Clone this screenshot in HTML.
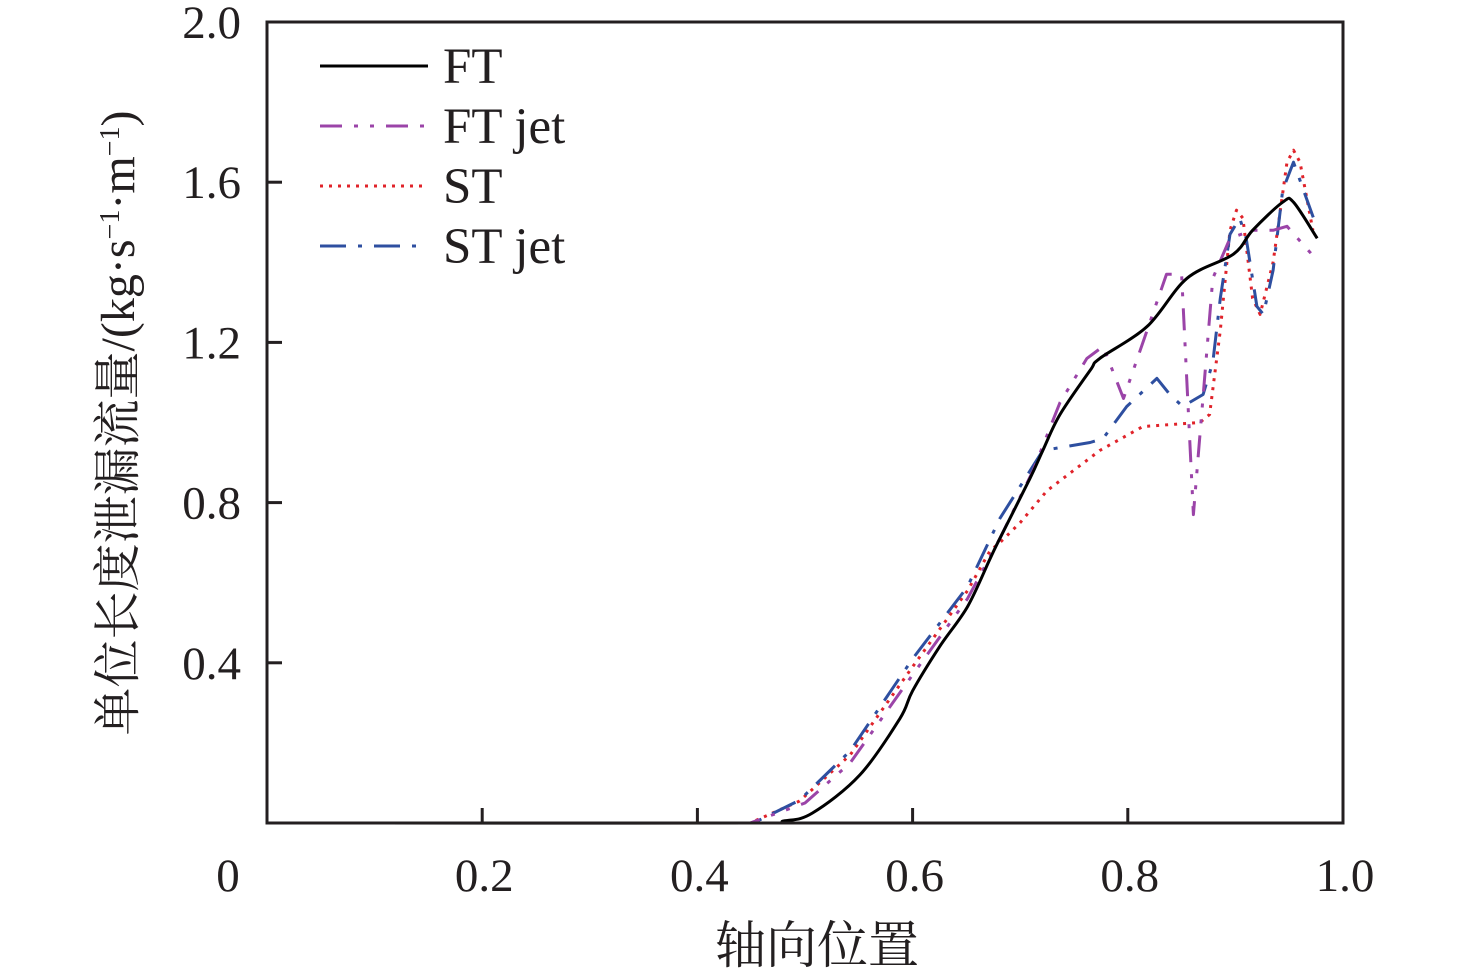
<!DOCTYPE html>
<html><head><meta charset="utf-8"><style>
html,body{margin:0;padding:0;background:#fff;}
svg{display:block;}
text{font-family:"Liberation Serif","Noto Serif CJK SC",serif;fill:#231f20;}
</style></head><body>
<svg id="chart" width="1476" height="980" viewBox="0 0 1476 980" xmlns="http://www.w3.org/2000/svg">
<g id="marks"></g>
<rect x="267" y="22" width="1076" height="801" fill="none" stroke="#231f20" stroke-width="3"/>
<g id="ticks"></g>
<text transform="translate(134,423) rotate(-90)" text-anchor="middle" font-size="48">单位长度泄漏流量/(kg·s<tspan baseline-shift="super" font-size="28">−1</tspan>·m<tspan baseline-shift="super" font-size="28">−1</tspan>)</text>
<text x="817" y="963" text-anchor="middle" font-size="51">轴向位置</text>
<g id="legend"></g>
</svg>
<script>
const NS='http://www.w3.org/2000/svg';
const xTicks=[0.2,0.4,0.6,0.8,1.0];
const xTickLabels=['0.2','0.4','0.6','0.8','1.0'];
const yTicks=[0.4,0.8,1.2,1.6,2.0];
const yTickLabels=['0.4','0.8','1.2','1.6','2.0'];
const seriesNames=['FT','FT jet','ST','ST jet'];
const ftX=[0.07,0.449,0.48,0.507,0.551,0.588,0.600,0.625,0.651,0.672,0.681,0.709,0.721,0.737,0.765,0.774,0.818,0.855,0.898,0.916,0.944,0.954,0.976];
const ftY=[0,0,0.005,0.025,0.12,0.26,0.33,0.44,0.54,0.66,0.71,0.86,0.93,1.02,1.13,1.16,1.24,1.36,1.42,1.48,1.55,1.55,1.46];
const ftjX=[0.07,0.449,0.50,0.542,0.600,0.651,0.681,0.712,0.737,0.762,0.777,0.796,0.836,0.850,0.861,0.879,0.895,0.916,0.935,0.948,0.971];
const ftjY=[0,0,0.05,0.15,0.37,0.56,0.71,0.88,1.05,1.16,1.19,1.06,1.37,1.37,0.77,1.36,1.46,1.48,1.48,1.49,1.42];
const stX=[0.07,0.449,0.495,0.542,0.600,0.651,0.672,0.681,0.70,0.725,0.774,0.814,0.867,0.876,0.886,0.895,0.901,0.907,0.916,0.923,0.935,0.948,0.954,0.960,0.972];
const stY=[0,0,0.055,0.17,0.39,0.58,0.68,0.70,0.75,0.83,0.93,0.99,1.0,1.02,1.23,1.48,1.53,1.51,1.31,1.27,1.40,1.65,1.68,1.65,1.48];
const stjX=[0.07,0.452,0.495,0.542,0.600,0.651,0.681,0.721,0.765,0.777,0.799,0.827,0.839,0.851,0.870,0.879,0.886,0.895,0.904,0.910,0.920,0.926,0.935,0.944,0.954,0.966,0.974];
const stjY=[0,0,0.057,0.18,0.41,0.59,0.76,0.93,0.95,0.96,1.04,1.11,1.07,1.04,1.07,1.15,1.31,1.47,1.51,1.46,1.29,1.27,1.38,1.58,1.65,1.56,1.50];
const X0=267,X1=1343,Y0=823,Y1=22;
const xs=v=>X0+v*(X1-X0);
const ys=v=>Y0-v/2*(Y0-Y1);
const styles=[
 {c:'#000000',d:'',w:3},
 {c:'#9b44a8',d:'22 12 4 12 4 12',w:3},
 {c:'#e0232a',d:'3 6',w:3},
 {c:'#2e4fa0',d:'26 12 4 12',w:3}];
const data=[[ftX,ftY],[ftjX,ftjY],[stX,stY],[stjX,stjY]];
function smoothPath(P){
 let d='M'+P[0][0].toFixed(1)+','+P[0][1].toFixed(1);
 for(let k=0;k<P.length-1;k++){
  const p0=P[k-1]||P[k],p1=P[k],p2=P[k+1],p3=P[k+2]||P[k+1];
  const c1=[p1[0]+(p2[0]-p0[0])/6,p1[1]+(p2[1]-p0[1])/6];
  const c2=[p2[0]-(p3[0]-p1[0])/6,p2[1]-(p3[1]-p1[1])/6];
  d+='C'+c1[0].toFixed(1)+','+c1[1].toFixed(1)+' '+c2[0].toFixed(1)+','+c2[1].toFixed(1)+' '+p2[0].toFixed(1)+','+p2[1].toFixed(1);
 }
 return d;
}
const marks=document.getElementById('marks');
const order=[2,3,1,0];
order.forEach(i=>{
 const [X,Y]=data[i];
 const P=X.map((x,k)=>[xs(x),ys(Y[k])]);
 const p=document.createElementNS(NS,'path');
 
 
 p.setAttribute('d',i===0?smoothPath(P):P.map((q,k)=>(k?'L':'M')+q[0].toFixed(1)+','+q[1].toFixed(1)).join(''));
 p.setAttribute('fill','none');p.setAttribute('stroke',styles[i].c);p.setAttribute('stroke-width',styles[i].w);
 p.setAttribute('stroke-linejoin','round');
 if(styles[i].d)p.setAttribute('stroke-dasharray',styles[i].d);
 marks.appendChild(p);
});
const tg=document.getElementById('ticks');
xTicks.forEach((t,i)=>{
 if(t<1){const l=document.createElementNS(NS,'line');
 
 
 l.setAttribute('x1',xs(t));l.setAttribute('x2',xs(t));l.setAttribute('y1',Y0);l.setAttribute('y2',Y0-15);
 l.setAttribute('stroke','#231f20');l.setAttribute('stroke-width',3);tg.appendChild(l);}
 const tx=document.createElementNS(NS,'text');
 
 
 tx.setAttribute('x',xs(t)+2);tx.setAttribute('y',891);tx.setAttribute('text-anchor','middle');tx.setAttribute('font-size','47');
 tx.textContent=xTickLabels[i];tg.appendChild(tx);
});
const z=document.createElementNS(NS,'text');


z.setAttribute('x',228);z.setAttribute('y',891);z.setAttribute('text-anchor','middle');z.setAttribute('font-size','47');z.textContent='0';tg.appendChild(z);
yTicks.forEach((t,i)=>{
 if(t<2){const l=document.createElementNS(NS,'line');
 
 
 l.setAttribute('x1',X0);l.setAttribute('x2',X0+15);l.setAttribute('y1',ys(t));l.setAttribute('y2',ys(t));
 l.setAttribute('stroke','#231f20');l.setAttribute('stroke-width',3);tg.appendChild(l);}
 const tx=document.createElementNS(NS,'text');
 
 
 tx.setAttribute('x',241);tx.setAttribute('y',ys(t)+16);tx.setAttribute('text-anchor','end');tx.setAttribute('font-size','47');
 tx.textContent=yTickLabels[i];tg.appendChild(tx);
});
const lg=document.getElementById('legend');
seriesNames.forEach((n,i)=>{
 const y=66+i*60;
 const l=document.createElementNS(NS,'line');
 
 
 l.setAttribute('x1',320);l.setAttribute('x2',428);l.setAttribute('y1',y);l.setAttribute('y2',y);
 l.setAttribute('stroke',styles[i].c);l.setAttribute('stroke-width',3);
 if(styles[i].d)l.setAttribute('stroke-dasharray',styles[i].d);
 lg.appendChild(l);
 const t=document.createElementNS(NS,'text');
 
 
 t.setAttribute('x',443);t.setAttribute('y',y+17);t.setAttribute('font-size','51');t.textContent=n;lg.appendChild(t);
});
</script>
</body></html>
